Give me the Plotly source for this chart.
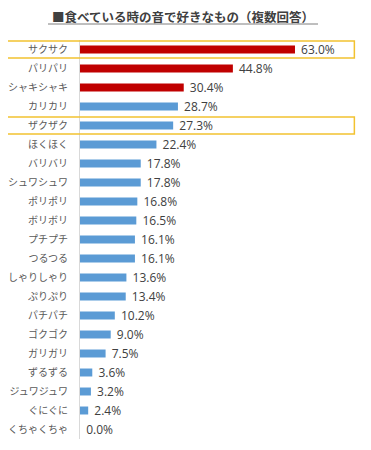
import plotly.graph_objects as go

categories = ["サクサク", "パリパリ", "シャキシャキ", "カリカリ", "ザクザク", "ほくほく",
              "バリバリ", "シュワシュワ", "ポリポリ", "ボリボリ", "プチプチ", "つるつる",
              "しゃりしゃり", "ぷりぷり", "パチパチ", "ゴクゴク", "ガリガリ", "ずるずる",
              "ジュワジュワ", "ぐにぐに", "くちゃくちゃ"]
values = [63.0, 44.8, 30.4, 28.7, 27.3, 22.4, 17.8, 17.8, 16.8, 16.5, 16.1, 16.1,
          13.6, 13.4, 10.2, 9.0, 7.5, 3.6, 3.2, 2.4, 0.0]
highlight_top = 3  # first three in red
boxed = [0, 4]

RED = "#C00000"
BLUE = "#5B9BD5"
colors = [RED if i < highlight_top else BLUE for i in range(len(values))]
ypos = list(range(len(categories)))
FONT = "Noto Sans CJK JP"

fig = go.Figure(go.Bar(
    x=values, y=ypos, orientation="h",
    marker=dict(color=colors, line=dict(width=0)),
    width=0.42,
    text=[f" {v:.1f}%" for v in values],
    textposition="outside",
    constraintext="none",
    textfont=dict(size=12, color="#404040", family="Open Sans"),
    cliponaxis=False,
))

shapes = []
for i in boxed:
    shapes.append(dict(type="rect", xref="paper", yref="y",
                       x0=-0.286, x1=1.005, y0=i - 0.45, y1=i + 0.45,
                       line=dict(color="#F2C230", width=1.5), fillcolor="rgba(0,0,0,0)"))
shapes.append(dict(type="line", xref="paper", yref="paper",
                   x0=(48 - 80) / 273, x1=(318 - 80) / 273,
                   y0=1 + (40 - 24) / 399, y1=1 + (40 - 24) / 399,
                   line=dict(color="#7F7F7F", width=1)))

fig.update_layout(
    width=363, height=442,
    margin=dict(l=72, r=18, t=32, b=11),
    plot_bgcolor="white", paper_bgcolor="white",
    showlegend=False,
    font=dict(family=FONT),
    shapes=shapes,
    annotations=[dict(text="<b>■食べている時の音で好きなもの（複数回答）</b>",
                      xref="paper", yref="paper",
                      x=(183 - 80) / 273, y=1 + (40 - 17) / 399,
                      xanchor="center", yanchor="middle", showarrow=False,
                      font=dict(size=12.5, color="#404040", family=FONT))],
    xaxis=dict(range=[0, 80], visible=False, fixedrange=True),
    yaxis=dict(range=[20.5, -0.5], tickmode="array", tickvals=ypos, ticktext=categories,
               showline=True, linecolor="#D9D9D9", linewidth=1, showgrid=False,
               zeroline=False, ticks="", ticklabelstandoff=9, automargin=False,
               tickfont=dict(size=10, color="#595959", family=FONT)),
)

fig.write_html("out.html")
